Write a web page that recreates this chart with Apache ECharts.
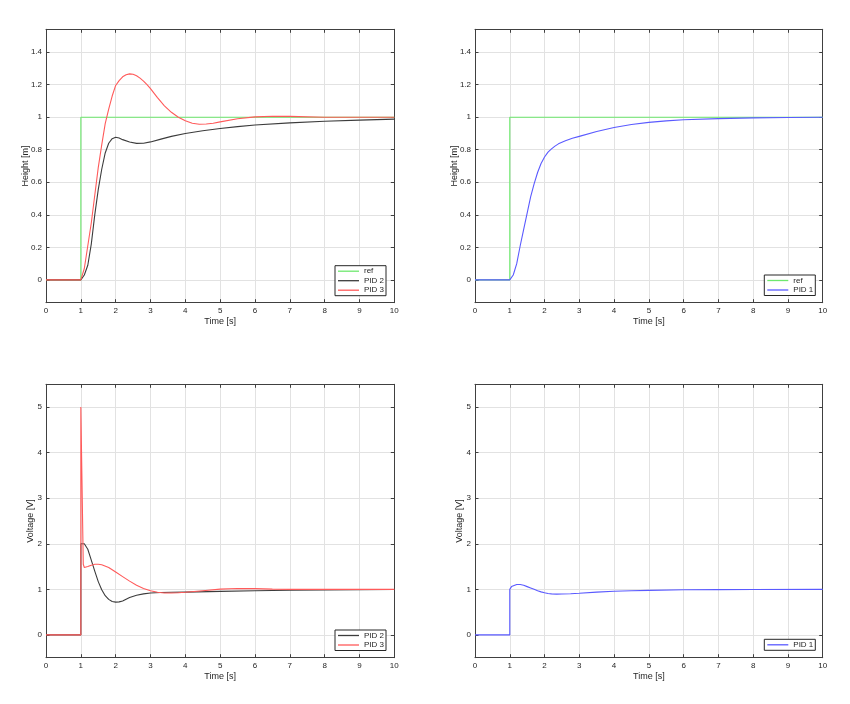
<!DOCTYPE html>
<html>
<head>
<meta charset="utf-8">
<script src="https://cdn.jsdelivr.net/npm/echarts@6/dist/echarts.min.js"></script>
<style>html,body{margin:0;padding:0;background:#fff;}#c{width:850px;height:704px;}</style>
</head>
<body>
<div id="c"></div>
<script>
// ---- data ----
var xTicks = [0,1,2,3,4,5,6,7,8,9,10];
var hTicks = [0,0.2,0.4,0.6,0.8,1,1.2,1.4];
var vTicks = [0,1,2,3,4,5];

var tRef = [0, 1, 1, 10];
var vRef = [0, 0, 1, 1];

// Height, PID 2 (black)
var tH2 = [0,1,1.1,1.2,1.3,1.4,1.5,1.6,1.7,1.8,1.9,2.0,2.1,2.2,2.4,2.6,2.8,3.0,3.3,3.6,4.0,4.5,5.0,5.5,6.0,7.0,8.0,9.0,10];
var vH2 = [0,0,0.03,0.09,0.22,0.40,0.555,0.68,0.78,0.84,0.868,0.877,0.872,0.862,0.847,0.839,0.840,0.848,0.865,0.882,0.90,0.917,0.93,0.942,0.952,0.965,0.975,0.982,0.988];

// Height, PID 3 (red)
var tH3 = [0,1,1.1,1.2,1.3,1.4,1.5,1.6,1.7,1.8,1.9,2.0,2.1,2.2,2.3,2.4,2.5,2.6,2.7,2.8,2.9,3.0,3.2,3.4,3.6,3.8,4.0,4.2,4.4,4.6,4.8,5.0,5.5,6.0,6.5,7.0,8.0,9.0,10];
var vH3 = [0,0,0.07,0.21,0.35,0.52,0.69,0.83,0.96,1.05,1.13,1.195,1.225,1.248,1.261,1.266,1.264,1.255,1.24,1.222,1.20,1.175,1.12,1.07,1.03,1.0,0.978,0.963,0.957,0.958,0.963,0.971,0.99,1.002,1.006,1.005,1.0,1.0,1.0];

// Height, PID 1 (blue)
var tH1 = [0,1,1.1,1.2,1.3,1.4,1.5,1.6,1.7,1.8,1.9,2.0,2.1,2.2,2.3,2.4,2.6,2.8,3.0,3.5,4.0,4.5,5.0,5.5,6.0,7.0,8.0,9.0,10];
var vH1 = [0,0,0.03,0.1,0.21,0.31,0.41,0.51,0.59,0.66,0.715,0.755,0.785,0.805,0.822,0.836,0.855,0.87,0.882,0.912,0.937,0.955,0.968,0.977,0.984,0.991,0.996,0.998,1.0];

// Voltage, PID 2 (black)
var tV2 = [0,1,1,1.05,1.1,1.2,1.3,1.4,1.5,1.6,1.7,1.8,1.9,2.0,2.1,2.2,2.4,2.6,2.8,3.0,3.3,3.6,4.0,5.0,6.0,7.0,8.0,9.0,10];
var vV2 = [0,0,2.0,2.02,2.0,1.88,1.64,1.40,1.17,0.99,0.86,0.78,0.735,0.72,0.725,0.745,0.82,0.87,0.90,0.92,0.93,0.935,0.94,0.955,0.968,0.98,0.988,0.994,0.998];

// Voltage, PID 3 (red)
var tV3 = [0,1,1,1.04,1.07,1.1,1.2,1.3,1.4,1.5,1.6,1.8,2.0,2.2,2.4,2.6,2.8,3.0,3.2,3.4,3.6,3.8,4.0,4.5,5.0,5.5,6.0,6.5,7.0,8.0,10];
var vV3 = [0,0,5,5,1.55,1.48,1.50,1.53,1.55,1.55,1.54,1.48,1.38,1.28,1.18,1.09,1.02,0.97,0.935,0.92,0.92,0.925,0.935,0.97,1.005,1.02,1.015,1.005,1.0,1.0,1.0];

// Voltage, PID 1 (blue)
var tV1 = [0,1,1,1.05,1.1,1.2,1.3,1.4,1.5,1.6,1.7,1.8,1.9,2.0,2.1,2.2,2.35,2.5,2.75,3.0,3.5,4.0,4.5,5.0,6.0,7.0,8.0,10];
var vV1 = [0,0,1.0,1.06,1.09,1.107,1.105,1.09,1.06,1.03,1.0,0.97,0.945,0.925,0.91,0.9,0.895,0.897,0.905,0.915,0.94,0.958,0.97,0.978,0.99,0.995,0.998,1.0];

var hRange = [-0.14, 1.54];
var vRange = [-0.5, 5.5];

// ---- helpers ----
function zip(t, v){ return t.map(function(x,i){ return [x, v[i]]; }); }
var FONT = "'Liberation Sans', Arial, Helvetica, sans-serif";
var TXT = '#262626';
var AX = '#404040';
var COL = {ref:'#6ee86e', p2:'#3c3c3c', p3:'#ff5a5a', p1:'#5a5aff'};

var grids = [
  {left:46, top:29.3, width:348.3, height:273.4},
  {left:475, top:29.3, width:347.7, height:273.4},
  {left:46, top:384.3, width:348.3, height:273.4},
  {left:475, top:384.3, width:347.7, height:273.4}
];

var xAxes = [], yAxes = [];
var yNames = ['Height [m]','Height [m]','Voltage [V]','Voltage [V]'];
var yNameGaps = [16,16,11,11];
for (var g=0; g<4; g++){
  var isH = g < 2;
  var r = isH ? hRange : vRange, tk = isH ? hTicks : vTicks;
  xAxes.push({
    type:'value', gridIndex:g, position:'bottom', min:0, max:10,
    name:'Time [s]', nameLocation:'middle', nameGap:14, nameMoveOverlap:false,
    nameTextStyle:{fontFamily:FONT, fontSize:9, color:TXT},
    axisLine:{show:true, onZero:false, lineStyle:{color:AX, width:1}},
    axisTick:{show:true, inside:true, length:3.5, lineStyle:{color:AX}, customValues:xTicks},
    axisLabel:{show:true, margin:4, fontFamily:FONT, fontSize:8, color:TXT, customValues:xTicks},
    splitLine:{show:true, lineStyle:{color:'#e2e2e2', width:1}}
  });
  yAxes.push({
    type:'value', gridIndex:g, position:'left', min:r[0], max:r[1],
    name:yNames[g], nameLocation:'middle', nameGap:yNameGaps[g], nameRotate:90, nameMoveOverlap:false,
    nameTextStyle:{fontFamily:FONT, fontSize:9, color:TXT},
    axisLine:{show:true, onZero:false, lineStyle:{color:AX, width:1}},
    axisTick:{show:true, inside:true, length:3.5, lineStyle:{color:AX}, customValues:tk},
    axisLabel:{show:true, margin:4, fontFamily:FONT, fontSize:8, color:TXT, customValues:tk},
    splitLine:{show:true, lineStyle:{color:'#e2e2e2', width:1}}
  });
}
for (var g=0; g<4; g++){
  var isH = g < 2;
  var r = isH ? hRange : vRange, tk = isH ? hTicks : vTicks;
  xAxes.push({
    type:'value', gridIndex:g, position:'top', min:0, max:10,
    axisLine:{show:true, onZero:false, lineStyle:{color:AX, width:1}},
    axisTick:{show:true, inside:true, length:3.5, lineStyle:{color:AX}, customValues:xTicks},
    axisLabel:{show:false}, splitLine:{show:false}
  });
  yAxes.push({
    type:'value', gridIndex:g, position:'right', min:r[0], max:r[1],
    axisLine:{show:true, onZero:false, lineStyle:{color:AX, width:1}},
    axisTick:{show:true, inside:true, length:3.5, lineStyle:{color:AX}, customValues:tk},
    axisLabel:{show:false}, splitLine:{show:false}
  });
}

function line(name, g, t, v, color){
  return {
    type:'line', name:name, xAxisIndex:g, yAxisIndex:g, data:zip(t, v),
    symbol:'none', showSymbol:false, smooth:false, color:color,
    lineStyle:{color:color, width:1.1}, emphasis:{disabled:true}
  };
}

var series = [
  line('ref', 0, tRef, vRef, COL.ref),
  line('PID 2', 0, tH2, vH2, COL.p2),
  line('PID 3', 0, tH3, vH3, COL.p3),
  line('ref', 1, tRef, vRef, COL.ref),
  line('PID 1', 1, tH1, vH1, COL.p1),
  line('PID 2', 2, tV2, vV2, COL.p2),
  line('PID 3', 2, tV3, vV3, COL.p3),
  line('PID 1', 3, tV1, vV1, COL.p1)
];

function legend(names, left, top){
  return {
    data:names, orient:'vertical', left:left, top:top,
    selectedMode:false, backgroundColor:'#fff',
    borderColor:'#262626', borderWidth:1, borderRadius:0,
    padding:[1,2,1,3], itemGap:0.5, itemWidth:21, itemHeight:1.3, icon:'rect',
    textStyle:{fontFamily:FONT, fontSize:8, color:TXT, lineHeight:9}
  };
}

var option = {
  animation:false,
  backgroundColor:'#fff',
  grid:grids,
  xAxis:xAxes,
  yAxis:yAxes,
  legend:[
    legend(['ref','PID 2','PID 3'], 335, 265.7),
    legend(['ref','PID 1'], 764.3, 275),
    legend(['PID 2','PID 3'], 335, 630),
    legend(['PID 1'], 764.3, 639.3)
  ],
  series:series
};

var chart = echarts.init(document.getElementById('c'), null, {renderer:'canvas'});
chart.setOption(option);
</script>
</body>
</html>
